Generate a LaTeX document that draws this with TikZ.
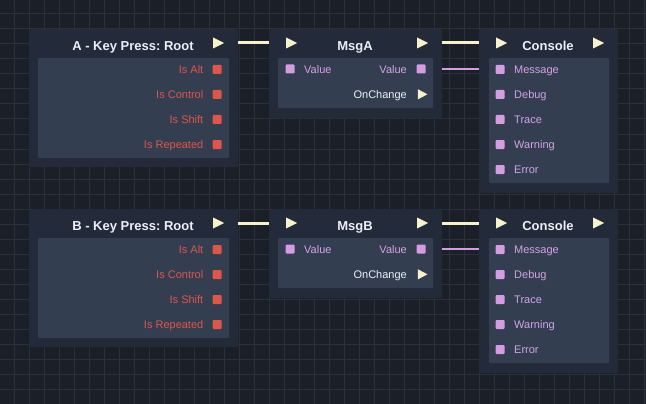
\documentclass[tikz,border=0pt]{standalone}
\usepackage{fontspec}
\setmainfont{Liberation Sans}
\usetikzlibrary{shapes.geometric,calc}
\definecolor{bgc}{HTML}{1B1F27}
\definecolor{gridc}{HTML}{2B3039}
\definecolor{outerc}{HTML}{232B3A}
\definecolor{innerc}{HTML}{333E50}
\definecolor{flowc}{HTML}{F7F3C6}
\definecolor{pinkc}{HTML}{D79BE3}
\definecolor{pinktxt}{HTML}{D4A2E8}
\definecolor{redc}{HTML}{E25546}
\definecolor{whitec}{HTML}{EAF0F7}
\tikzset{
  outerbox/.style={fill=outerc, rounded corners=2pt},
  innerbox/.style={fill=innerc, rounded corners=1pt},
  titletxt/.style={text=whitec, font=\fontsize{13}{15}\selectfont\bfseries\frenchspacing, inner sep=0pt, text height=9.2pt, text depth=0pt},
  rowfont/.style={font=\fontsize{11}{13}\selectfont\frenchspacing, inner sep=0pt, text height=7.9pt, text depth=0pt},
  redtxt/.style={rowfont, text=redc, anchor=east},
  pinktext/.style={rowfont, text=pinktxt},
  whitetxt/.style={rowfont, text=whitec, anchor=east},
  redsq/.style={rectangle, fill=redc, minimum size=9pt, inner sep=0pt, rounded corners=1pt},
  pinksq/.style={rectangle, fill=pinkc, minimum size=9pt, inner sep=0pt, rounded corners=1pt},
  flowtri/.style={isosceles triangle, isosceles triangle stretches, fill=flowc, minimum width=11pt, minimum height=11pt, inner sep=0pt},
  smalltri/.style={flowtri, minimum width=10pt, minimum height=9.5pt},
  flowwire/.style={draw=flowc, line width=3pt},
  valwire/.style={draw=pinkc, line width=2pt},
}
\begin{document}
\begin{tikzpicture}[x=1pt,y=-1pt]
\fill[bgc] (0,0) rectangle (646,404);
\useasboundingbox (0,0) rectangle (646,404);
\foreach \i in {0,...,42} {\draw[gridc, line width=1pt] (14+15*\i,0) -- (14+15*\i,404);}
\foreach \j in {0,...,26} {\draw[gridc, line width=1pt] (0,14+15*\j) -- (646,14+15*\j);}

\foreach \dy/\L in {0/A,180/B} {
  % Key press node
  \node[outerbox, anchor=north west, minimum width=209pt, minimum height=138pt, inner sep=0pt] (K\L) at (29,29+\dy) {};
  \fill[innerbox] (38,58+\dy) rectangle (229,158+\dy);
  \node[titletxt] (Kt\L) at (133,45.5+\dy) {\L\ - Key Press: Root};
  \node[flowtri] (Ko\L) at (216.5,43+\dy) {};
  \foreach \y/\t [count=\k] in {69.5/Is Alt,94.5/Is Control,119.5/Is Shift,144.5/Is Repeated} {
    \node[redtxt] (Kr\L\k) at (203.5,\y+\dy) {\t};
    \node[redsq] (Ks\L\k) at (217,\y+\dy) {};
  }
  % Msg node
  \node[outerbox, anchor=north west, minimum width=173pt, minimum height=89pt, inner sep=0pt] (M\L) at (269,29+\dy) {};
  \fill[innerbox] (278,58+\dy) rectangle (433,108+\dy);
  \node[titletxt] (Mt\L) at (355,45.5+\dy) {Msg\L};
  \node[flowtri] (Mi\L) at (289.5,43+\dy) {};
  \node[flowtri] (Mo\L) at (420.5,43+\dy) {};
  \node[pinksq] (Mvi\L) at (290,69+\dy) {};
  \node[pinktext, anchor=west] (Mvit\L) at (304,69.5+\dy) {Value};
  \node[pinktext, anchor=east] (Mvot\L) at (407,69.5+\dy) {Value};
  \node[pinksq] (Mvo\L) at (421,69+\dy) {};
  \node[whitetxt] (Mct\L) at (407,94.5+\dy) {OnChange};
  \node[smalltri] (Mc\L) at (421,94.3+\dy) {};
  % Console node
  \node[outerbox, anchor=north west, minimum width=139pt, minimum height=164pt, inner sep=0pt] (C\L) at (479,29+\dy) {};
  \fill[innerbox] (489,58+\dy) rectangle (609,183+\dy);
  \node[titletxt] (Ct\L) at (548,45.5+\dy) {Console};
  \node[flowtri] (Ci\L) at (499.5,43+\dy) {};
  \node[flowtri] (Co\L) at (596.5,43+\dy) {};
  \foreach \y/\t [count=\k] in {69.5/Message,94.5/Debug,119.5/Trace,144.5/Warning,169.5/Error} {
    \node[pinksq] (Cs\L\k) at (500,\y+\dy) {};
    \node[pinktext, anchor=west] (Cr\L\k) at (514,\y+\dy) {\t};
  }
  % wires
  \draw[flowwire] (Ko\L -| K\L.east) -- (Mi\L -| M\L.west);
  \draw[flowwire] (Mo\L -| M\L.east) -- (Ci\L -| C\L.west);
  \draw[valwire] (Mvo\L -| M\L.east) -- (Mvo\L -| C\L.west);
}
\end{tikzpicture}
\end{document}
